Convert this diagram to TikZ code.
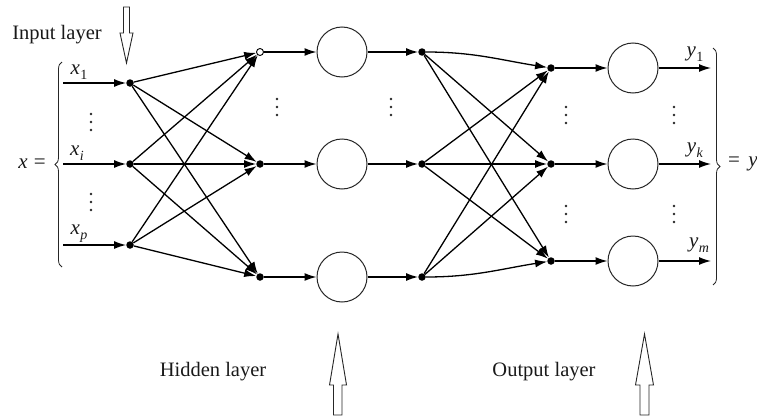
\documentclass[tikz,border=0pt]{standalone}
\usepackage{fontspec}
\setmainfont{Liberation Serif}
\usetikzlibrary{arrows.meta,decorations.pathreplacing}
\newcommand{\ivar}[2]{\textit{#1}\kern0.5pt\raisebox{-5pt}{\fontsize{14}{14}\selectfont #2}}
\begin{document}
\begin{tikzpicture}[x=1pt,y=-1pt,
 dot/.style={circle,fill=black,inner sep=0pt,minimum size=7.5pt},
 odot/.style={circle,draw=black,fill=white,line width=0.9pt,inner sep=0pt,minimum size=7pt},
 neuron/.style={circle,draw=black!85,line width=1pt,minimum size=50pt,inner sep=0pt},
 conn/.style={line width=1.3pt,-{Latex[length=12pt,width=8pt]}},
 lbl/.style={font=\fontsize{20.5}{24}\selectfont,text=black!90},
 mlbl/.style={font=\fontsize{21}{24}\selectfont,inner sep=0pt,text=black!90},
 blockarrow/.style={draw=black!85,line width=0.9pt,fill=white},
 brc/.style={draw=black!85,line width=0.8pt,decorate,decoration={brace,amplitude=7pt}}]
\useasboundingbox (0,0) rectangle (757,415);
% input nodes
\node[dot] (i1) at (130,83) {};
\node[dot] (i2) at (130,164) {};
\node[dot] (i3) at (130,245) {};
\coordinate (s1) at (63,83);
\coordinate (s2) at (63,164);
\coordinate (s3) at (63,245);
% hidden input nodes
\node[odot] (h1) at (260,52) {};
\node[dot] (h2) at (260,164) {};
\node[dot] (h3) at (260,277) {};
% hidden neurons
\node[neuron] (n1) at (342,52) {};
\node[neuron] (n2) at (342,164) {};
\node[neuron] (n3) at (342,277) {};
% hidden outputs
\node[dot] (g1) at (422,52) {};
\node[dot] (g2) at (422,164) {};
\node[dot] (g3) at (422,277) {};
% output input nodes
\node[dot] (o1) at (551,68) {};
\node[dot] (o2) at (551,164) {};
\node[dot] (o3) at (551,261) {};
% output neurons
\node[neuron] (m1) at (633,68) {};
\node[neuron] (m2) at (633,164) {};
\node[neuron] (m3) at (633,261) {};
\coordinate (e1) at (711,68);
\coordinate (e2) at (711,164);
\coordinate (e3) at (711,261);
% connections
\foreach \k in {1,2,3}{
  \draw[conn] (s\k) -- (i\k);
  \draw[conn] (h\k) -- (n\k);
  \draw[conn] (n\k) -- (g\k);
  \draw[conn] (o\k) -- (m\k);
  \draw[conn] (m\k) -- (e\k);
}
\foreach \a in {1,2,3}{
  \foreach \b in {1,2,3}{
    \draw[conn] (i\a) -- (h\b);
  }
}
\draw[conn] (g1) to[out=0,in=171] (o1);
\draw[conn] (g1) -- (o2);
\draw[conn] (g1) -- (o3);
\draw[conn] (g2) -- (o1);
\draw[conn] (g2) -- (o2);
\draw[conn] (g2) -- (o3);
\draw[conn] (g3) -- (o1);
\draw[conn] (g3) -- (o2);
\draw[conn] (g3) to[out=0,in=-171] (o3);
% vertical dots
\foreach \x/\y in {91/114,91/194,277/99,391/99,566/107,566/206,674/107,674/206}{
  \foreach \d in {0,8,16}{
    \fill[black!85] (\x,\y+\d) circle (1.4pt);
  }
}
% labels
\node[mlbl] (lx1) at (79,72) {\ivar{x}{1}};
\node[mlbl] (lxi) at (77,153) {\ivar{x}{\textit{i}}};
\node[mlbl] (lxp) at (79,234) {\ivar{x}{\textit{p}}};
\node[mlbl] (ly1) at (695,54) {\ivar{y}{1}};
\node[mlbl] (lyk) at (695,150) {\ivar{y}{\textit{k}}};
\node[mlbl] (lym) at (699,245) {\ivar{y}{\textit{m}}};
\node[mlbl,anchor=east] (xeq) at (46,164) {\textit{x} \kern1pt=};
\node[mlbl,anchor=west] (eqy) at (728,164) {= \kern3pt\textit{y}};
\node[lbl] (tin) at (57,35) {Input layer};
\node[lbl] (thid) at (213,372) {Hidden layer};
\node[lbl] (tout) at (544,372) {Output layer};
% braces
\draw[brc] (62,267) -- (62,62);
\draw[brc] (713,48) -- (713,285);
% block arrows
\draw[blockarrow] (123.5,7) -- (129.5,7) -- (129.5,33) -- (133,33) -- (126.5,63) -- (120,33) -- (123.5,33) -- cycle;
\draw[blockarrow] (333.5,415) -- (342,415) -- (342,385) -- (346.5,385) -- (338,334) -- (329.5,385) -- (333.5,385) -- cycle;
\draw[blockarrow] (640,415) -- (649,415) -- (649,385) -- (653.5,385) -- (644.5,334) -- (635.5,385) -- (640,385) -- cycle;
\end{tikzpicture}
\end{document}
